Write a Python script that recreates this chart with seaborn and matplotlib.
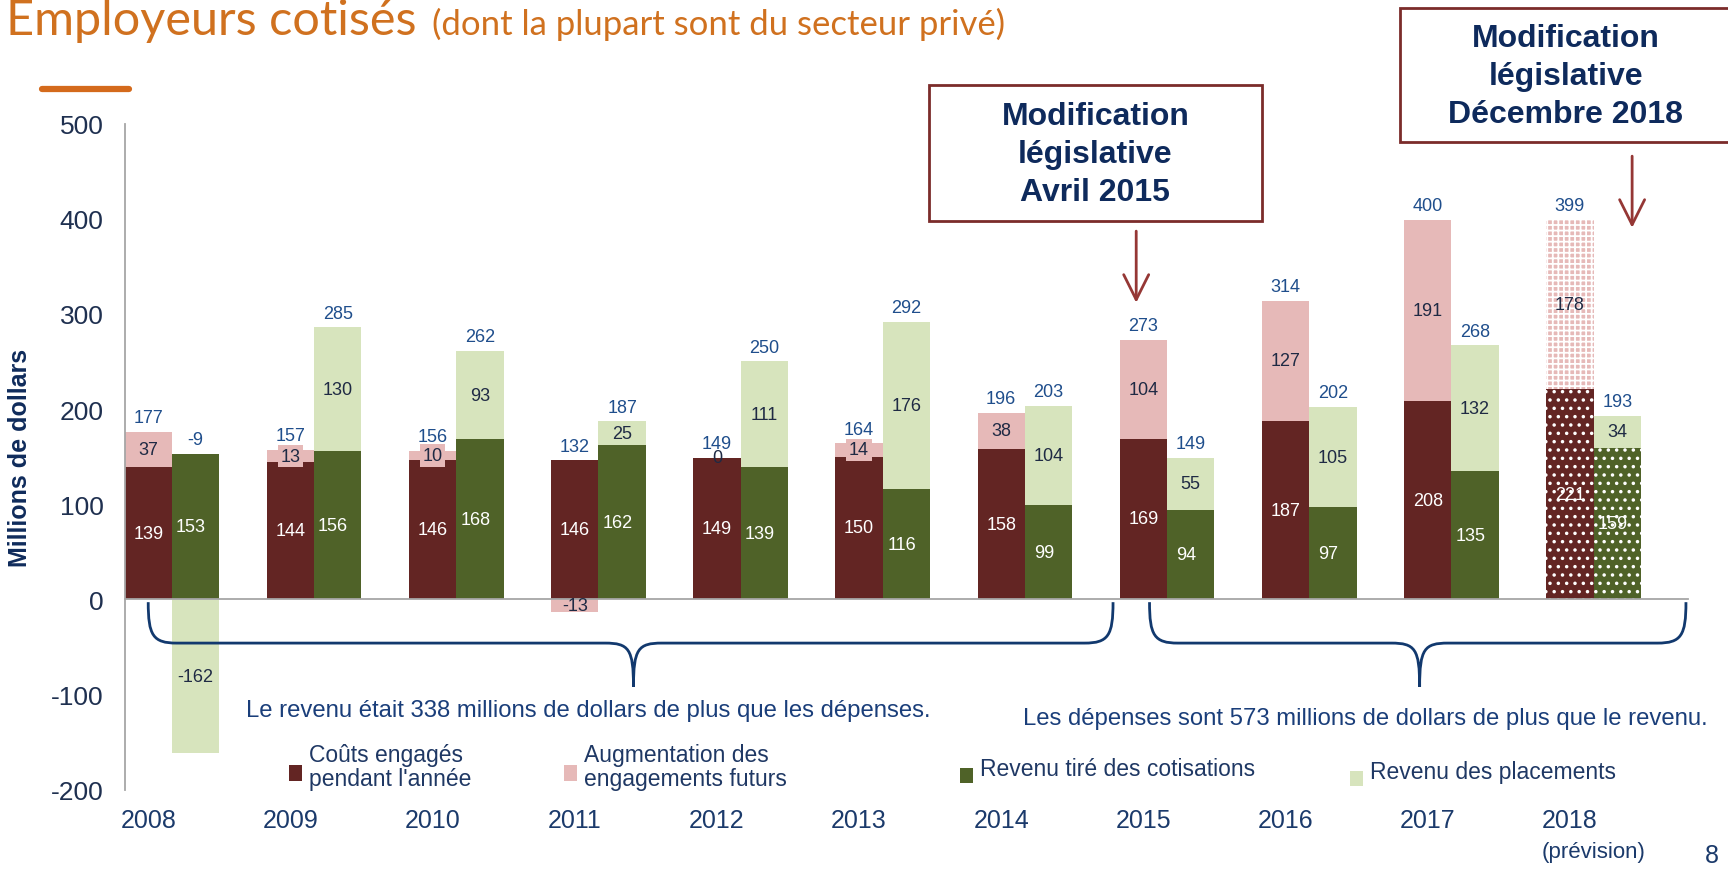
import matplotlib
matplotlib.use("Agg")
import matplotlib.pyplot as plt
import seaborn as sns
import numpy as np
from matplotlib.path import Path
from matplotlib.patches import PathPatch, Rectangle, FancyArrowPatch

# === Data ===
years = ["2008", "2009", "2010", "2011", "2012", "2013",
         "2014", "2015", "2016", "2017", "2018"]
couts = [139, 144, 146, 146, 149, 150, 158, 169, 187, 208, 221]
engagements = [37, 13, 10, -13, 0, 14, 38, 104, 127, 191, 178]
total_depenses = [177, 157, 156, 132, 149, 164, 196, 273, 314, 400, 399]
cotisations = [153, 156, 168, 162, 139, 116, 99, 94, 97, 135, 159]
placements = [-162, 130, 93, 25, 111, 176, 104, 55, 105, 132, 34]
total_revenu = [-9, 285, 262, 187, 250, 292, 203, 149, 202, 268, 193]
yticks = [-200, -100, 0, 100, 200, 300, 400, 500]

C_COUT = "#632523"
C_ENG = "#E6B9B8"
C_COT = "#4F6228"
C_PLA = "#D7E4BD"
NAVY = "#0F2B5B"
BLUE = "#1F4E8C"
LABEL_DARK = "#1F2A44"

sns.set_style("white")
plt.rcParams["font.family"] = ["Liberation Sans", "DejaVu Sans"]
plt.rcParams["axes.unicode_minus"] = False
plt.rcParams["hatch.color"] = "white"
plt.rcParams["hatch.linewidth"] = 1.3

W, H = 1568.0, 789.0  # layout measured on the reference


def fx(x):
    return x / W


def fy(y):
    return 1 - y / H


fig = plt.figure(figsize=(17.28, 8.70), dpi=100)
ax = fig.add_axes([fx(113), fy(717), fx(1532) - fx(113), fy(113) - fy(717)])

# three slots per year: expenses, revenue, empty gap
slots = [f"{y}_{k}" for y in years for k in ("dep", "rev", "gap")]
dep_slots = [f"{y}_dep" for y in years]
rev_slots = [f"{y}_rev" for y in years]


def layer(names, values, bottoms, color):
    sns.barplot(x=names, y=values, order=slots, color=color, saturation=1,
                width=1, errorbar=None, bottom=bottoms, linewidth=0, ax=ax)
    return ax.containers[-1]


eng_bottom = [c if e >= 0 else 0 for c, e in zip(couts, engagements)]
pla_bottom = [c if p >= 0 else 0 for c, p in zip(cotisations, placements)]

bars_cout = layer(dep_slots, couts, [0] * len(years), C_COUT)
bars_eng = layer(dep_slots, engagements, eng_bottom, C_ENG)
bars_cot = layer(rev_slots, cotisations, [0] * len(years), C_COT)
bars_pla = layer(rev_slots, placements, pla_bottom, C_PLA)

# 2018 forecast patterns
for cont, h in ((bars_cout, ".."), (bars_cot, ".."), (bars_eng, "+++")):
    p = cont.patches[-1]
    p.set_hatch(h)
    p.set_edgecolor("white")
    p.set_linewidth(0)

# === Value labels ===
for i in range(len(years)):
    xd, xr = 3 * i, 3 * i + 1
    ax.text(xd, couts[i] / 2, str(couts[i]), ha="center", va="center",
            color="white", fontsize=13)
    e = engagements[i]
    eb = dict(boxstyle="square,pad=0.15", fc=C_ENG, ec="none") if 0 < e < 20 else None
    ax.text(xd, eng_bottom[i] + e / 2, str(e), ha="center", va="center",
            color=LABEL_DARK, fontsize=13, bbox=eb)
    top_d = couts[i] + max(e, 0)
    ax.text(xd, top_d + 6, str(total_depenses[i]), ha="center", va="bottom",
            color=BLUE, fontsize=13)

    ax.text(xr - 0.1, cotisations[i] / 2, str(cotisations[i]), ha="center",
            va="center", color="white", fontsize=13)
    pv = placements[i]
    ax.text(xr, pla_bottom[i] + pv / 2, str(pv), ha="center", va="center",
            color=LABEL_DARK, fontsize=13)
    top_r = cotisations[i] + max(pv, 0)
    ax.text(xr, top_r + 6, str(total_revenu[i]), ha="center", va="bottom",
            color=BLUE, fontsize=13)

# === Axes styling ===
ax.set_xlim(-0.5, len(slots) - 0.5)
ax.set_ylim(-200, 500)
ax.set_yticks(yticks)
ax.set_yticklabels([str(v) for v in yticks], fontsize=19, color="#1F3050")
ax.set_xticks(np.arange(-0.5, len(slots), 1))
ax.set_xticklabels([])
ax.set_xlabel("")
ax.set_ylabel("Millions de dollars", fontsize=18, fontweight="bold",
              color=NAVY, labelpad=14)
for s in ("top", "right"):
    ax.spines[s].set_visible(False)
ax.spines["bottom"].set_position(("data", 0))
for s in ("left", "bottom"):
    ax.spines[s].set_color("#A6A6A6")
    ax.spines[s].set_linewidth(1.3)
ax.tick_params(axis="both", direction="out", length=7, color="#A6A6A6", width=1.3)
ax.tick_params(axis="y", pad=8)

tr = ax.get_xaxis_transform()
for i, y in enumerate(years):
    ax.text(3 * i, -0.046, y, transform=tr, ha="center", va="center",
            fontsize=18, color="#1B3A6B")
ax.text(30.5, -0.093, "(prévision)", transform=tr, ha="center", va="center",
        fontsize=16, color="#1B3A6B")


# === Braces ===
def brace(x0, x1, xt, y0=-3, y1=-46, yt=-92):
    verts = [(x0, y0), (x0, y1 + 8), (x0 + 0.1, y1), (x0 + 0.6, y1),
             (xt - 0.6, y1),
             (xt - 0.1, y1), (xt, y1 - 6), (xt, yt),
             (xt, y1 - 6), (xt + 0.1, y1), (xt + 0.6, y1),
             (x1 - 0.6, y1),
             (x1 - 0.1, y1), (x1, y1 + 8), (x1, y0)]
    codes = [Path.MOVETO, Path.CURVE4, Path.CURVE4, Path.CURVE4,
             Path.LINETO,
             Path.CURVE4, Path.CURVE4, Path.CURVE4,
             Path.CURVE4, Path.CURVE4, Path.CURVE4,
             Path.LINETO,
             Path.CURVE4, Path.CURVE4, Path.CURVE4]
    ax.add_patch(PathPatch(Path(verts, codes), fc="none", ec="#12396E",
                           lw=2.0, clip_on=False))


brace(0.0, 20.36, 10.24)
brace(21.13, 32.45, 26.83)
fig.text(fx(534), fy(645), "Le revenu était 338 millions de dollars de plus que les dépenses.",
         ha="center", va="center", fontsize=17.2, color="#1A3E7A")
fig.text(fx(1239), fy(652), "Les dépenses sont 573 millions de dollars de plus que le revenu.",
         ha="center", va="center", fontsize=17.2, color="#1A3E7A")

# === Legend (manual) ===
legend_items = [
    (268, 702, C_COUT, "Coûts engagés\npendant l'année"),
    (518, 702, C_ENG, "Augmentation des\nengagements futurs"),
    (877, 704, C_COT, "Revenu tiré des cotisations"),
    (1231, 707, C_PLA, "Revenu des placements"),
]
for lx, ly, col, txt in legend_items:
    fig.patches.append(Rectangle((fx(lx - 6), fy(ly + 7)), fx(12), 14 / H,
                                 transform=fig.transFigure, fc=col, ec="none"))
    fig.text(fx(lx + 12), fy(ly - 6), txt, ha="left", va="center", fontsize=16.5,
             color="#1F3864", linespacing=1.1)

# === Annotation boxes ===
for (x0, y0, x1, y1), txt, tx, ax_x, a0, a1 in (
        ((843, 78, 1145, 201), "Modification\nlégislative\nAvril 2015", 994, 1031, 208, 278),
        ((1270, 8, 1575, 130), "Modification\nlégislative\nDécembre 2018", 1421, 1481, 140, 210)):
    fig.patches.append(Rectangle((fx(x0), fy(y1)), fx(x1 - x0), (y1 - y0) / H,
                                 transform=fig.transFigure, fc="white",
                                 ec="#7B2C2A", lw=2.0))
    fig.text(fx(tx), fy((y0 + y1) / 2 + 1), txt, ha="center", va="center",
             fontsize=23, fontweight="bold", color="#0E2A5C", linespacing=1.36)
    fig.patches.append(FancyArrowPatch((fx(ax_x), fy(a0)), (fx(ax_x), fy(a1)),
                                       transform=fig.transFigure,
                                       arrowstyle="->,head_length=0.9,head_width=0.45",
                                       color="#953735", lw=2.0, mutation_scale=20))

# === Title ===
fig.text(fx(5), fy(32), "Employeurs cotisés", ha="left", va="baseline",
         fontsize=35, family="Lato", color="#D0711F")
fig.text(fx(392), fy(32), "(dont la plupart sont du secteur privé)", ha="left",
         va="baseline", fontsize=25, family="Lato", color="#D0711F")
fig.add_artist(plt.Line2D([fx(38), fx(117)], [fy(82), fy(82)],
                          transform=fig.transFigure, color="#D46A1C", lw=4.5))
fig.text(fx(1553), fy(776), "8", ha="center", va="center", fontsize=18,
         color="#1B3A6B")

fig.savefig("out.png", dpi=100)
